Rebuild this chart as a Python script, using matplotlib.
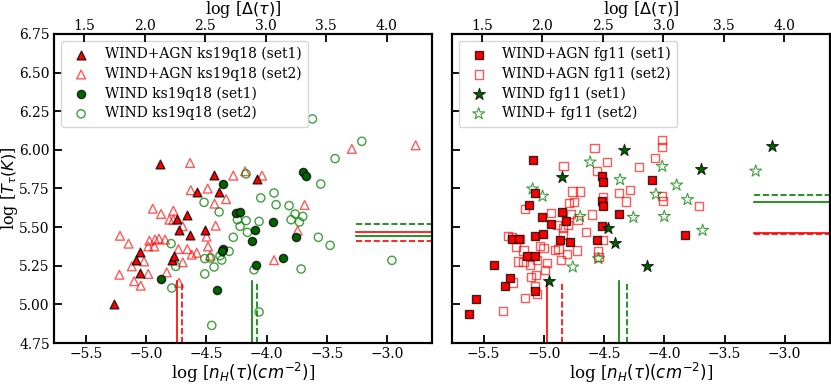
import matplotlib
matplotlib.use("Agg")
import matplotlib.pyplot as plt
import numpy as np

plt.rcParams['font.family'] = ['DejaVu Serif']
plt.rcParams['mathtext.fontset'] = 'dejavusans'

# ---------------- Left panel data (ks19q18) ----------------
agn_ks_set1_x = [-5.27, -5.087, -5.05, -5.05, -4.885, -4.79, -4.77, -4.745, -4.725,
                 -4.66, -4.636, -4.58, -4.51, -4.434, -4.40, -4.08]
agn_ks_set1_y = [5.00, 5.29, 5.34, 5.20, 5.91, 5.29, 5.315, 5.55, 5.48,
                 5.58, 5.45, 5.73, 5.48, 5.84, 5.73, 5.81]

agn_ks_set2_x = [-5.218, -5.147, -5.223, -5.120, -5.101, -5.046, -5.018, -4.983, -4.946,
                 -4.974, -4.927, -4.894, -4.844, -4.983, -4.933, -4.877, -4.830, -4.808,
                 -4.775, -4.775, -4.698, -4.733, -4.697, -4.659, -4.728, -4.636, -4.630,
                 -4.622, -4.581, -4.490, -4.499, -4.487, -4.470, -4.433, -4.424, -4.337,
                 -4.277, -4.179, -4.038, -3.939, -3.743, -3.685, -3.293, -2.763]
agn_ks_set2_y = [5.444, 5.393, 5.192, 5.246, 5.150, 5.121, 5.278, 5.197, 5.619,
                 5.412, 5.419, 5.425, 5.419, 5.375, 5.375, 5.585, 5.207, 5.548,
                 5.548, 5.606, 5.506, 5.358, 5.272, 5.358, 5.140, 5.915, 5.739,
                 5.322, 5.334, 5.749, 5.438, 5.375, 5.315, 5.652, 5.509, 5.681,
                 5.833, 5.861, 5.833, 5.286, 5.477, 5.643, 6.006, 6.029]

wind_ks_set1_x = [-4.877, -4.409, -4.365, -4.365, -4.37, -4.254, -4.221, -4.124,
                  -4.096, -4.088, -3.95, -3.867, -3.757, -3.70, -3.673]
wind_ks_set1_y = [5.166, 5.095, 5.781, 5.358, 5.343, 5.591, 5.595, 5.412,
                  5.479, 5.252, 5.533, 5.30, 5.436, 5.857, 5.828]

wind_ks_set2_x = [-4.794, -4.755, -4.788, -4.52, -4.514, -4.514, -4.465, -4.437, -4.456,
                  -4.395, -4.387, -4.373, -4.312, -4.277, -4.243, -4.221, -4.171, -4.16,
                  -4.105, -4.063, -4.049, -4.063, -3.939, -3.922, -3.814, -3.797, -3.764,
                  -3.728, -3.70, -3.714, -3.571, -3.473, -3.551, -2.96, -4.171, -3.62,
                  -3.432, -3.21]
wind_ks_set2_y = [5.393, 5.246, 5.106, 5.66, 5.296, 5.197, 5.30, 5.242, 4.864,
                  5.598, 5.315, 5.287, 5.343, 5.434, 5.548, 5.505, 5.542, 5.466,
                  5.224, 5.537, 5.689, 4.951, 5.721, 5.645, 5.639, 5.548, 5.585,
                  5.533, 5.569, 5.229, 5.434, 5.382, 5.779, 5.285, 5.844, 6.20,
                  5.943, 6.055]

# median-type reference lines (left)
left_vlines = [-4.744, -4.703, -4.124, -4.082]
left_hlines = [5.468, 5.412, 5.44, 5.522]

# ---------------- Right panel data (fg11) ----------------
agn_fg_set1_x = [-5.624, -5.56, -5.417, -5.32, -5.285, -5.265, -5.204, -5.141, -5.121,
                 -5.091, -5.072, -5.072, -5.072, -5.016, -5.011, -4.942, -4.864, -4.85,
                 -4.817, -4.784, -4.56, -4.519, -4.512, -4.514, -4.511, -4.514, -4.376,
                 -4.10, -3.832, -5.07]
agn_fg_set1_y = [4.94, 5.035, 5.252, 5.116, 5.17, 5.425, 5.425, 5.31, 5.641,
                 5.936, 5.44, 5.31, 5.088, 5.566, 5.457, 5.522, 5.414, 5.598,
                 5.537, 5.401, 5.418, 5.828, 5.79, 5.667, 5.634, 5.505, 5.585,
                 5.807, 5.451, 5.72]

agn_fg_set2_x = [-4.579, -4.019, -4.017, -4.077, -4.210, -4.478, -4.837, -4.562, -4.763,
                 -4.699, -4.508, -4.376, -4.285, -4.318, -4.019, -4.014, -3.710, -5.155,
                 -4.790, -4.749, -4.942, -4.778, -4.602, -4.721, -4.894, -4.798, -4.840,
                 -4.653, -4.842, -5.300, -5.265, -5.200, -5.232, -5.169, -5.034, -5.003,
                 -4.910, -4.879, -4.809, -4.728, -4.552, -4.547, -4.506, -5.215, -5.169,
                 -5.113, -5.058, -4.975, -4.856, -4.989, -5.066, -5.105, -5.072, -5.058,
                 -5.260, -5.155, -5.339]
agn_fg_set2_y = [6.011, 6.066, 6.017, 5.946, 5.889, 5.919, 5.896, 5.861, 5.731,
                 5.731, 5.694, 5.723, 5.738, 5.665, 5.703, 5.671, 5.639, 5.616,
                 5.656, 5.660, 5.591, 5.587, 5.582, 5.545, 5.516, 5.512, 5.493,
                 5.467, 5.451, 5.440, 5.438, 5.423, 5.375, 5.349, 5.376, 5.365,
                 5.354, 5.358, 5.325, 5.349, 5.347, 5.307, 5.419, 5.278, 5.276,
                 5.254, 5.289, 5.268, 5.289, 5.221, 5.192, 5.179, 5.116, 5.069,
                 5.142, 5.041, 4.955]

wind_fg_set1_x = [-4.846, -4.332, -3.696, -3.106, -4.469, -4.409, -4.146, -4.956]
wind_fg_set1_y = [5.824, 6.001, 5.878, 6.027, 5.494, 5.397, 5.246, 5.149]

wind_fg_set2_x = [-5.094, -5.011, -4.616, -4.367, -4.017, -3.898, -3.241, -4.069,
                  -3.807, -4.699, -4.257, -4.000, -3.682, -4.547, -4.760]
wind_fg_set2_y = [5.747, 5.700, 5.921, 5.807, 5.893, 5.772, 5.862, 5.713,
                  5.678, 5.569, 5.563, 5.569, 5.479, 5.296, 5.242]

right_vlines = [-4.975, -4.85, -4.373, -4.312]
right_hlines = [5.462, 5.458, 5.66, 5.705]

xlim = (-5.766, -2.626)
xlim_top = (1.25, 4.375)
ylim = (4.75, 6.75)

RED_LIGHT = (1.0, 0.0, 0.0, 0.65)
GREEN_LIGHT = (0.0, 0.5, 0.0, 0.75)
EDGE = (0.0, 0.0, 0.0, 0.75)

fig = plt.figure(figsize=(8.31, 3.85), dpi=100)
axL = fig.add_axes([0.065, 0.109, 0.455, 0.803])
axR = fig.add_axes([0.5435, 0.109, 0.455, 0.803])

def style(ax, show_ylabels=True):
    ax.set_xlim(*xlim)
    ax.set_ylim(*ylim)
    for s in ax.spines.values():
        s.set_linewidth(1.5)
    ax.tick_params(direction='in', length=6, width=1.3, labelsize=10, pad=3,
                   top=False, right=False, labelleft=show_ylabels)
    ax.set_xticks([-5.5, -5.0, -4.5, -4.0, -3.5, -3.0])
    ax.set_yticks([4.75, 5.0, 5.25, 5.5, 5.75, 6.0, 6.25, 6.5, 6.75])
    ax.set_xlabel(r'log [$n_H(\tau)(cm^{-2})$]', fontsize=12, labelpad=0)
    top = ax.twiny()
    top.set_xlim(*xlim_top)
    top.set_xticks([1.5, 2.0, 2.5, 3.0, 3.5, 4.0])
    top.tick_params(direction='in', length=6, width=1.3, labelsize=10, pad=0.5)
    top.set_xlabel(r'log [$\Delta(\tau)$]', fontsize=11.5, labelpad=0)
    top.xaxis.set_label_coords(0.5, 1.064)
    for s in top.spines.values():
        s.set_linewidth(1.5)
    return top

legend_kw = dict(loc='upper left', fontsize=10, handletextpad=0.7, borderpad=0.45,
                 labelspacing=0.38, handlelength=2.0, borderaxespad=0.5)

# ---- left panel ----
style(axL)
axL.set_yticklabels(['4.75', '5.00', '5.25', '5.50', '5.75', '6.00', '6.25', '6.50', '6.75'])
axL.set_ylabel(r'log [$T_{\tau}(K)$]', fontsize=11.5)
axL.yaxis.set_label_coords(-0.091, 0.5)
axL.scatter(agn_ks_set1_x, agn_ks_set1_y, marker='^', s=40, facecolor='red',
            edgecolor=EDGE, linewidth=1.0, zorder=4, label='WIND+AGN ks19q18 (set1)')
axL.scatter(agn_ks_set2_x, agn_ks_set2_y, marker='^', s=40, facecolor='none',
            edgecolor=RED_LIGHT, linewidth=1.0, zorder=3, label='WIND+AGN ks19q18 (set2)')
axL.scatter(wind_ks_set1_x, wind_ks_set1_y, marker='o', s=35, facecolor='darkgreen',
            edgecolor=EDGE, linewidth=1.0, zorder=4, label='WIND ks19q18 (set1)')
axL.scatter(wind_ks_set2_x, wind_ks_set2_y, marker='o', s=35, facecolor='none',
            edgecolor=GREEN_LIGHT, linewidth=1.0, zorder=3, label='WIND ks19q18 (set2)')
axL.axvline(left_vlines[0], ymax=0.2, color='red', lw=1.2, ls='-')
axL.axvline(left_vlines[1], ymax=0.2, color='red', lw=1.2, ls='--')
axL.axvline(left_vlines[2], ymax=0.2, color='green', lw=1.2, ls='-')
axL.axvline(left_vlines[3], ymax=0.2, color='green', lw=1.2, ls='--')
axL.axhline(left_hlines[0], xmin=0.8, color='red', lw=1.2, ls='-')
axL.axhline(left_hlines[1], xmin=0.8, color='red', lw=1.2, ls='--')
axL.axhline(left_hlines[2], xmin=0.8, color='green', lw=1.2, ls='-')
axL.axhline(left_hlines[3], xmin=0.8, color='green', lw=1.2, ls='--')
axL.legend(**legend_kw)

# ---- right panel ----
style(axR, show_ylabels=False)
axR.scatter(agn_fg_set1_x, agn_fg_set1_y, marker='s', s=35, facecolor='red',
            edgecolor=EDGE, linewidth=1.0, zorder=4, label='WIND+AGN fg11 (set1)')
axR.scatter(agn_fg_set2_x, agn_fg_set2_y, marker='s', s=35, facecolor='none',
            edgecolor=RED_LIGHT, linewidth=1.0, zorder=3, label='WIND+AGN fg11 (set2)')
axR.scatter(wind_fg_set1_x, wind_fg_set1_y, marker='*', s=80, facecolor='darkgreen',
            edgecolor=EDGE, linewidth=0.8, zorder=4, label='WIND fg11 (set1)')
axR.scatter(wind_fg_set2_x, wind_fg_set2_y, marker='*', s=80, facecolor='none',
            edgecolor=GREEN_LIGHT, linewidth=0.8, zorder=3, label='WIND+ fg11 (set2)')
axR.axvline(right_vlines[0], ymax=0.2, color='red', lw=1.2, ls='-')
axR.axvline(right_vlines[1], ymax=0.2, color='red', lw=1.2, ls='--')
axR.axvline(right_vlines[2], ymax=0.2, color='green', lw=1.2, ls='-')
axR.axvline(right_vlines[3], ymax=0.2, color='green', lw=1.2, ls='--')
axR.axhline(right_hlines[0], xmin=0.8, color='red', lw=1.2, ls='-')
axR.axhline(right_hlines[1], xmin=0.8, color='red', lw=1.2, ls='--')
axR.axhline(right_hlines[2], xmin=0.8, color='green', lw=1.2, ls='-')
axR.axhline(right_hlines[3], xmin=0.8, color='green', lw=1.2, ls='--')
axR.legend(**legend_kw)

fig.savefig('out.png', dpi=100)
